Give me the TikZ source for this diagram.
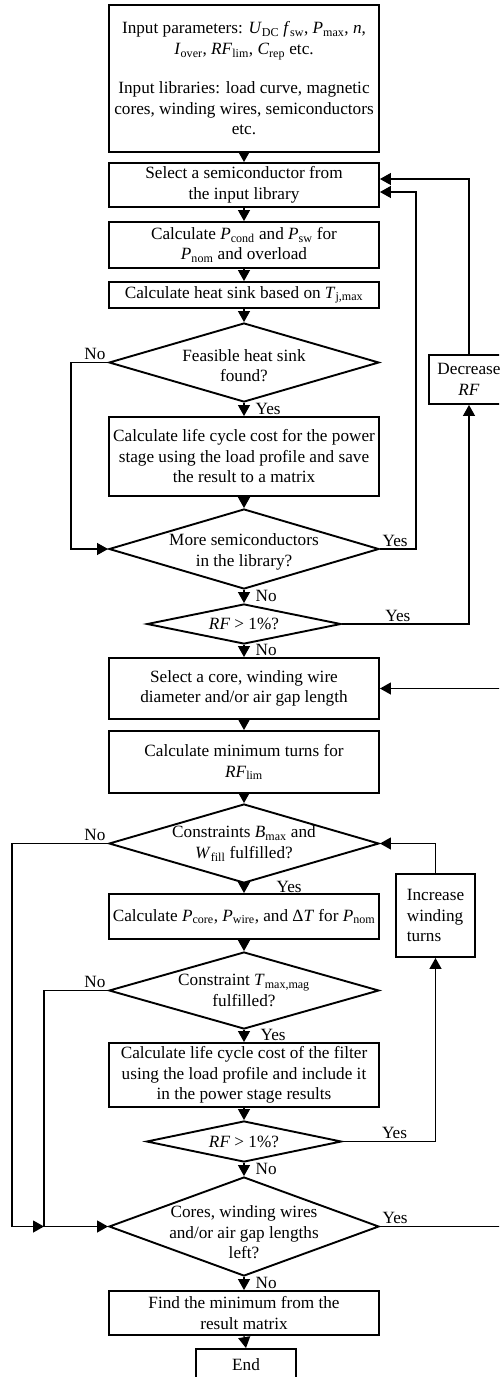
\documentclass[tikz,border=0pt]{standalone}
\usepackage{fontspec}
\setmainfont{Liberation Serif}
\usetikzlibrary{shapes.geometric, arrows.meta}
\newcommand{\vq}[2]{\textit{#1}\textsubscript{#2}}

\begin{document}
\begin{tikzpicture}[x=1pt, y=-1pt,
        box/.style={rectangle, draw, line width=1.9pt, minimum width=270pt, inner sep=0pt, font=\fontsize{17.2}{20.5}\selectfont, align=center},
        cond/.style={diamond, draw, line width=1.9pt, inner sep=0pt, minimum width=270pt},
        txt/.style={inner sep=0pt, font=\fontsize{17.2}{20.5}\selectfont, align=center},
        lbl/.style={inner sep=2pt, font=\fontsize{17.2}{20.5}\selectfont},
        arrow/.style={-{Triangle[length=11pt, width=12pt]}, line width=1.2pt}
    ]
        \useasboundingbox (0,0) rectangle (499,1377);
        \clip (0,0) rectangle (499,1377);

        % power stage: semiconductors
        \node[box, minimum height=147pt] (inp) at (244,78.5) {Input parameters: \vq{U}{DC} \vq{f}{sw}, \vq{P}{max}, \textit{n},\\\vq{I}{over}, \vq{RF}{lim}, \vq{C}{rep} etc.\\[19pt]Input libraries: load curve, magnetic\\cores, winding wires, semiconductors\\etc.};
        \node[box, minimum height=44pt] (sel) at (244,185) {Select a semiconductor from\\the input library};
        \node[box, minimum height=46pt] (loss) at (244,245) {Calculate \vq{P}{cond} and \vq{P}{sw} for\\\vq{P}{nom} and overload};
        \node[box, minimum height=26pt] (hs) at (244,295) {Calculate heat sink based on \vq{T}{j,max}};
        \node[cond, minimum height=79pt] (feas) at (244,362.5) {};
        \node[txt] at ([yshift=-3pt]feas) {Feasible heat sink\\found?};
        \node[box, minimum height=79pt] (lcc) at (244,456.5) {Calculate life cycle cost for the power\\stage using the load profile and save\\the result to a matrix};
        \node[cond, minimum height=80pt] (more) at (244,549) {};
        \node[txt] at ([yshift=-3pt]more) {More semiconductors\\in the library?};
        \node[cond, minimum width=194pt, minimum height=40pt] (rfa) at (244,624) {};
        \node[txt] at (rfa) {\textit{RF} > 1\%?};
        \node[box, minimum width=80pt, minimum height=49pt] (decr) at (469,379.5) {Decrease\\\textit{RF}};

        \draw[arrow] (inp.south) -- (sel.north);
        \draw[arrow] (sel.south) -- (loss.north);
        \draw[arrow] (loss.south) -- (hs.north);
        \draw[arrow] (hs.south) -- (feas.north);
        \draw[arrow] (feas.south) -- node[lbl, right=9pt, pos=0.45] {Yes} (lcc.north);
        \draw[arrow] (lcc.south) -- (more.north);
        \draw[arrow] (more.south) -- node[lbl, right=9pt, pos=0.45] {No} (rfa.north);
        \draw[arrow] (feas.west) -- node[lbl, above left, pos=0] {No} ++(-37,0) |- (more.west);
        \draw[arrow] (more.east) -- node[lbl, above right, pos=0] {Yes} ++(36,0) |- ([yshift=-7pt]sel.east);
        \draw[arrow] (rfa.east) -| node[lbl, above, pos=0.22] {Yes} (decr.south);
        \draw[arrow] (decr.north) |- ([yshift=6pt]sel.east);

        % filter: magnetics
        \node[box, minimum height=61pt] (core) at (244,688.5) {Select a core, winding wire\\diameter and/or air gap length};
        \node[box, minimum height=62pt] (turns) at (244,762) {Calculate minimum turns for\\\vq{RF}{lim}};
        \node[cond, minimum height=79pt] (cons) at (244,843.5) {};
        \node[txt] at (cons) {Constraints \vq{B}{max} and\\\vq{W}{fill} fulfilled?};
        \node[box, minimum height=45pt] (pcore) at (244,916.5) {Calculate \vq{P}{core}, \vq{P}{wire}, and Δ\textit{T} for \vq{P}{nom}};
        \node[cond, minimum height=77pt] (tmax) at (244,990.5) {};
        \node[txt] at (tmax) {Constraint \vq{T}{max,mag}\\fulfilled?};
        \node[box, minimum height=64pt] (lccf) at (244,1075) {Calculate life cycle cost of the filter\\using the load profile and include it\\in the power stage results};
        \node[cond, minimum width=195pt, minimum height=41pt] (rfb) at (244,1141.5) {};
        \node[txt] at (rfb) {\textit{RF} > 1\%?};
        \node[cond, minimum height=99pt] (left) at (244,1226.5) {};
        \node[txt] at ([yshift=-6pt]left) {Cores, winding wires\\and/or air gap lengths\\left?};
        \node[box, minimum height=44pt] (min) at (244,1313) {Find the minimum from the\\result matrix};
        \node[box, minimum width=100pt, minimum height=32pt] (end) at (246,1365) {End};
        \node[box, minimum width=79pt, minimum height=83pt, align=left] (incr) at (435.5,915.5) {Increase\\winding\\turns};
        \coordinate (jn) at (44,1226.5);

        \draw[arrow] (rfa.south) -- node[lbl, right=9pt, pos=0.4] {No} (core.north);
        \draw[arrow] (core.south) -- (turns.north);
        \draw[arrow] (turns.south) -- (cons.north);
        \draw[arrow] (cons.south) -- node[lbl, right=30pt, pos=0.3] {Yes} (pcore.north);
        \draw[arrow] (pcore.south) -- (tmax.north);
        \draw[arrow] (tmax.south) -- node[lbl, right=14pt, pos=0.45] {Yes} (lccf.north);
        \draw[arrow] (lccf.south) -- (rfb.north);
        \draw[arrow] (rfb.south) -- node[lbl, right=9pt, pos=0.45] {No} (left.north);
        \draw[arrow] (left.south) -- node[lbl, right=9pt, pos=0.45] {No} (min.north);
        \draw[arrow] (min.south) -- (end.north);
        \draw[arrow] (cons.west) -- node[lbl, above left, pos=0] {No} ++(-96,0) |- (jn);
        \draw[arrow] (tmax.west) -- node[lbl, above left, pos=0] {No} ++(-64,0) |- (left.west);
        \draw[arrow] (rfb.east) -| node[lbl, above, pos=0.28] {Yes} (incr.south);
        \draw[arrow] (incr.north) |- (cons.east);
        \draw[arrow] (left.east) -- node[lbl, above right, pos=0] {Yes} ++(137,0) |- (core.east);
    \end{tikzpicture}
\end{document}
